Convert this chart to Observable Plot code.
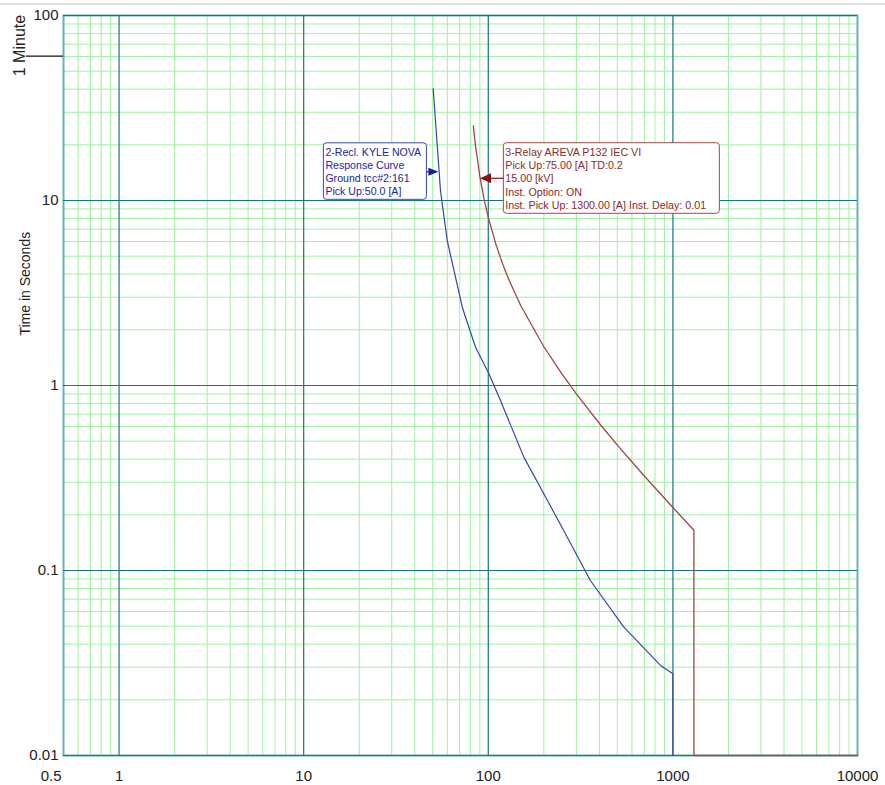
<!DOCTYPE html>
<html>
<head>
<meta charset="utf-8">
<script src="https://cdn.jsdelivr.net/npm/d3@7"></script>
<script src="https://cdn.jsdelivr.net/npm/@observablehq/plot@0.6"></script>
<style>
  html, body { margin: 0; padding: 0; background: #fff; }
  #chart svg { display: block; }
</style>
</head>
<body>
<div id="chart"></div>
<script>
// ---- Data ----
// Blue: 2-Recl. KYLE NOVA (current [A], time [s])
const blueI = [50.3, 55.1, 59.9, 72.3, 85.3, 100.7, 116.4, 155.8, 199.9, 256.5, 357.9, 542.3, 857, 1000, 1000];
const blueT = [40.2, 11.3, 6.08, 2.65, 1.61, 1.16, 0.83, 0.41, 0.26, 0.164, 0.088, 0.0494, 0.0307, 0.0277, 0.01];
// Red: 3-Relay AREVA P132 IEC VI
const redI = [83, 85, 90, 95, 100, 110, 120, 130, 150, 200, 250, 300, 400, 500, 700, 1000, 1300, 1300, 10000];
const redT = [25.3, 20.2, 13.5, 10.1, 8.1, 5.79, 4.5, 3.68, 2.7, 1.62, 1.16, 0.9, 0.623, 0.476, 0.324, 0.219, 0.165, 0.01, 0.01];

// Axis ticks
const xTickValues = [0.5, 1, 10, 100, 1000, 10000];
const xTickLabels = ["0.5", "1", "10", "100", "1000", "10000"];
const yTickValues = [0.01, 0.1, 1, 10, 100];
const yTickLabels = ["0.01", "0.1", "1", "10", "100"];
const xMajor = [1, 10, 100, 1000];
const yMajor = [0.01, 0.1, 1, 10, 100];
const decadesX = [0.1, 1, 10, 100, 1000];
const decadesY = [0.01, 0.1, 1, 10];

// Annotation texts
const blueLabel = ["2-Recl. KYLE NOVA", "Response Curve", "Ground tcc#2:161", "Pick Up:50.0 [A]"];
const redLabel = ["3-Relay AREVA P132 IEC VI", "Pick Up:75.00 [A] TD:0.2", "15.00 [kV]", "Inst. Option: ON", "Inst. Pick Up: 1300.00 [A] Inst. Delay: 0.01"];
const blueArrowTip = {I: 54.0, t: 14.2};
const redArrowTip = {I: 90.8, t: 13.1};
const minuteMark = 60;

// ---- Derived tables ----
const blue = blueI.map((I, i) => ({I, t: blueT[i]}));
const red = redI.map((I, i) => ({I, t: redT[i]}));
const xTicks = xTickValues.map((v, i) => ({v, label: xTickLabels[i]}));
const yTicks = yTickValues.map((v, i) => ({v, label: yTickLabels[i]}));
const xMinor = decadesX.flatMap(d => d3.range(2, 10).map(k => +(d * k).toPrecision(3))).filter(v => v > 0.5 && v < 10000);
const yMinor = decadesY.flatMap(d => d3.range(2, 10).map(k => +(d * k).toPrecision(3)));

const FONT = "'Liberation Sans', Arial, Helvetica, sans-serif";

function annotations(index, scales) {
  const x = scales.x, y = scales.y;
  const g = d3.create("svg:g").attr("font-family", FONT).attr("text-anchor", "start");
  // thin gray separator at the very top of the page
  g.append("line").attr("x1", 0).attr("x2", 885).attr("y1", 4).attr("y2", 4)
    .attr("stroke", "#d6d6d6").attr("stroke-width", 1.5);

  // 1 Minute marker
  const ym = y(minuteMark);
  g.append("line").attr("x1", 26).attr("x2", x(0.5)).attr("y1", ym).attr("y2", ym)
    .attr("stroke", "#111").attr("stroke-width", 1.2);
  g.append("text").attr("transform", `translate(19,${ym - 10.5}) rotate(-90)`)
    .attr("text-anchor", "middle").attr("dominant-baseline", "central")
    .attr("font-size", 16).attr("fill", "#222").text("1 Minute");

  // Blue annotation
  {
    const tx = x(blueArrowTip.I), ty = y(blueArrowTip.t);
    const left = tx - 115, top = ty - 29;
    g.append("rect").attr("x", left).attr("y", top).attr("width", 103).attr("height", 56.5)
      .attr("rx", 3).attr("fill", "#fff").attr("stroke", "#3b46b4").attr("stroke-width", 1);
    g.append("line").attr("x1", tx - 12).attr("x2", tx - 9).attr("y1", ty).attr("y2", ty)
      .attr("stroke", "#1c1c9c").attr("stroke-width", 1.2);
    g.append("path").attr("d", `M${tx},${ty}L${tx - 10},${ty - 4}L${tx - 10},${ty + 4}Z`).attr("fill", "#1c1c9c");
    blueLabel.forEach((s, i) => {
      g.append("text").attr("x", left + 2).attr("y", ty - 20 + i * 13.1)
        .attr("text-anchor", "start")
        .attr("dominant-baseline", "central").attr("font-size", 10.6).attr("fill", "#2323a6").text(s);
    });
  }
  // Red annotation
  {
    const tx = x(redArrowTip.I), ty = y(redArrowTip.t);
    const left = tx + 23.3, top = ty - 35.6;
    g.append("rect").attr("x", left).attr("y", top).attr("width", 216).attr("height", 70.6)
      .attr("rx", 3).attr("fill", "#fff").attr("stroke", "#9c4a4a").attr("stroke-width", 1);
    g.append("line").attr("x1", tx + 10).attr("x2", left).attr("y1", ty).attr("y2", ty)
      .attr("stroke", "#8b1010").attr("stroke-width", 1.2);
    g.append("path").attr("d", `M${tx},${ty}L${tx + 11},${ty - 5}L${tx + 11},${ty + 5}Z`).attr("fill", "#8b1010");
    redLabel.forEach((s, i) => {
      g.append("text").attr("x", left + 2).attr("y", ty - 26.6 + i * 13.3)
        .attr("text-anchor", "start")
        .attr("dominant-baseline", "central").attr("font-size", 10.7).attr("fill", "#8a2a2a").text(s);
    });
  }
  return g.node();
}

const plot = Plot.plot({
  width: 885,
  height: 785,
  marginLeft: 63,
  marginRight: 28,
  marginTop: 15,
  marginBottom: 30,
  style: {fontFamily: FONT, background: "#fff", overflow: "visible"},
  x: {type: "log", domain: [0.5, 10000], axis: null},
  y: {type: "log", domain: [0.01, 100], axis: null},
  marks: [
    Plot.ruleX(xMinor, {stroke: "#9ef29e", strokeWidth: 1}),
    Plot.ruleY(yMinor, {stroke: "#9ef29e", strokeWidth: 1}),
    Plot.frame({stroke: "#66b3b3", strokeWidth: 2}),
    Plot.ruleX(xMajor, {stroke: "#14797b", strokeWidth: 1.2}),
    Plot.ruleY(yMajor, {stroke: "#14797b", strokeWidth: 1.2}),
    Plot.line(blue, {x: "I", y: "t", stroke: "#3846aa", strokeWidth: 1.2}),
    Plot.line(red, {x: "I", y: "t", stroke: "#a04545", strokeWidth: 1.3}),
    annotations,
    Plot.text(yTicks, {frameAnchor: "left", y: "v", text: "label",
      textAnchor: "end", dx: -5, fontSize: 15, fill: "#222"}),
    Plot.text(xTicks.filter(d => d.v > 0.5), {frameAnchor: "bottom", x: "v", text: "label",
      textAnchor: "middle", dy: 21, lineAnchor: "middle", fontSize: 15, fill: "#222"}),
    Plot.text(xTicks.filter(d => d.v === 0.5), {frameAnchor: "bottom", x: "v", text: "label",
      textAnchor: "end", dx: -2, dy: 21, lineAnchor: "middle", fontSize: 15, fill: "#222"}),
    Plot.text(["Time in Seconds"], {frameAnchor: "left", y: [3.55], text: d => d, rotate: -90,
      textAnchor: "middle", dx: -38, fontSize: 14, fill: "#222"})
  ]
});
document.getElementById("chart").appendChild(plot);
</script>
</body>
</html>
